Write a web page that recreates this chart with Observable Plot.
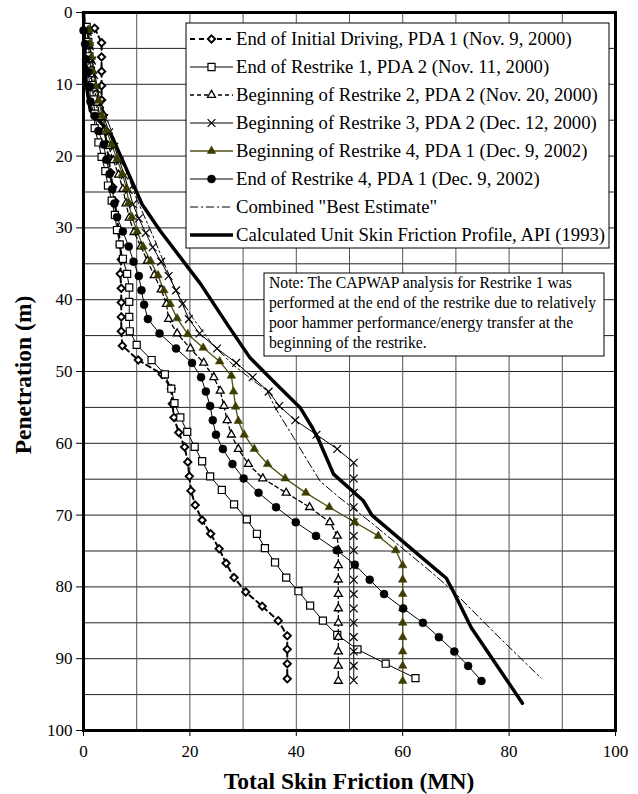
<!DOCTYPE html>
<html><head><meta charset="utf-8">
<script src="https://cdn.jsdelivr.net/npm/d3@7"></script>
<script src="https://cdn.jsdelivr.net/npm/@observablehq/plot@0.6"></script>
<style>body{margin:0;background:#fff}</style>
</head><body><div id="chart"></div>
<script>
// ---- data ----
const xTicks = [0, 20, 40, 60, 80, 100];
const yTicks = [0, 10, 20, 30, 40, 50, 60, 70, 80, 90, 100];
const xGrid = [10, 20, 30, 40, 50, 60, 70, 80, 90];
const yGrid = [5, 10, 15, 20, 25, 30, 35, 40, 45, 50, 55, 60, 65, 70, 75, 80, 85, 90, 95];

const seriesNames = [
  "End of Initial Driving, PDA 1 (Nov. 9, 2000)",
  "End of Restrike 1, PDA 2 (Nov. 11, 2000)",
  "Beginning of Restrike 2, PDA 2 (Nov. 20, 2000)",
  "Beginning of Restrike 3, PDA 2 (Dec. 12, 2000)",
  "Beginning of Restrike 4, PDA 1 (Dec. 9, 2002)",
  "End of Restrike 4, PDA 1 (Dec. 9, 2002)",
  "Combined \"Best Estimate\"",
  "Calculated Unit Skin Friction Profile, API (1993)"
];
const noteLines = [
  "Note: The CAPWAP analysis for Restrike 1 was",
  "performed at the end of the restrike due to relatively",
  "poor hammer performance/energy transfer at the",
  "beginning of the restrike."
];
const xTitle = "Total Skin Friction (MN)";
const yTitle = "Penetration (m)";

// End of Initial Driving
const depth1 = [2.2,4.2,6.2,8.2,10.2,12.2,14.3,16.3,18.3,20.3,22.3,24.3,26.3,28.3,30.3,32.4,34.4,36.4,38.4,40.4,42.4,44.4,46.4,48.4,50.4,52.4,54.5,56.4,58.5,60.5,62.6,64.6,66.6,68.6,70.7,72.6,74.7,76.7,78.7,80.7,82.7,84.7,86.8,88.7,90.7,92.8];
const fric1  = [2.1,3.4,3.4,3.4,3.4,3.4,3.7,4.0,4.3,4.7,5.1,5.5,5.9,6.2,6.6,6.9,7.1,6.9,7.1,7.1,7.1,7.1,7.3,10.3,14.8,16.5,16.7,17.0,17.9,19.0,19.6,19.9,20.2,21.0,22.3,23.9,25.5,26.8,28.3,30.5,33.6,36.6,38.3,38.3,38.3,38.3];
// End of Restrike 1
const depth2 = [2.0,4.1,6.1,8.1,10.1,12.1,14.1,16.1,18.1,20.1,22.1,24.1,26.2,28.2,30.3,32.3,34.3,36.4,38.3,40.3,42.4,44.4,46.3,48.4,50.4,52.4,54.4,56.4,58.4,60.5,62.5,64.6,66.5,68.5,70.6,72.6,74.6,76.6,78.7,80.6,82.6,84.7,86.7,88.7,90.7,92.7];
const fric2  = [0.6,0.9,1.1,1.4,1.6,1.9,2.1,2.1,2.8,3.4,4.1,4.6,5.3,5.9,6.3,6.8,7.4,8.2,8.6,8.6,8.6,8.7,10.0,12.8,15.3,16.5,17.1,18.2,19.5,20.9,22.3,23.8,26.0,28.3,30.7,32.6,34.1,36.0,38.1,40.4,42.6,45.0,47.7,51.5,56.8,62.4];
// Beginning of Restrike 2
const depth3 = [2.6,4.6,6.6,8.6,10.6,12.6,14.6,16.6,18.6,20.6,22.6,24.6,26.6,28.6,30.6,32.6,34.6,36.6,38.6,40.6,42.7,44.7,46.8,48.8,50.8,52.7,54.8,56.8,58.8,60.8,62.9,64.9,66.9,68.9,71.0,72.9,74.9,77.0,79.0,81.0,83.0,85.0,87.0,89.0,91.0,93.1];
const fric3  = [0.8,1.0,1.3,1.6,2.0,2.6,3.1,3.8,4.7,5.6,6.6,7.4,8.0,8.6,9.5,10.8,12.0,13.3,14.6,15.6,16.0,17.6,20.1,22.6,24.5,25.7,26.4,27.0,27.8,29.1,31.0,33.7,38.1,42.5,46.3,47.7,47.9,47.9,47.9,47.9,47.9,47.9,47.9,47.9,47.9,47.9];
// Beginning of Restrike 3
const depth4 = [2.7,4.7,6.7,8.7,10.7,12.7,14.7,16.7,18.7,20.7,22.7,24.7,26.7,28.7,30.7,32.7,34.7,36.7,38.7,40.6,42.7,44.7,46.8,48.8,50.8,52.8,54.8,56.8,58.8,60.8,62.7,64.9,66.9,68.9,71.0,72.9,74.9,77.0,79.0,81.0,83.0,85.0,87.0,89.0,91.0,93.0];
const fric4  = [0.8,1.2,1.6,2.0,2.5,3.1,3.9,4.8,5.8,6.8,7.7,8.5,9.3,10.4,11.7,13.0,14.6,16.0,17.4,18.6,19.8,21.8,25.1,28.7,31.8,34.8,36.8,39.8,43.8,47.7,50.8,50.8,50.8,50.8,50.8,50.8,50.8,50.8,50.8,50.8,50.8,50.8,50.8,50.8,50.8,50.8];
// Beginning of Restrike 4
const depth5 = [2.4,4.3,6.2,8.2,10.3,12.3,14.4,16.4,18.4,20.4,22.5,24.5,26.5,28.5,30.5,32.6,34.6,36.6,38.7,40.6,42.6,44.8,46.7,48.6,50.6,52.8,54.9,56.9,58.8,60.8,62.9,64.9,66.9,68.9,71.0,72.9,74.9,77.0,79.0,81.0,83.0,85.0,87.0,89.0,91.0,93.1];
const fric5  = [1.0,1.2,1.5,1.8,2.3,2.9,3.5,4.3,5.3,6.3,7.3,8.1,8.5,9.1,10.1,11.2,12.6,14.0,15.1,16.3,17.6,19.6,22.5,25.6,27.8,28.2,28.6,29.1,30.2,32.1,34.6,37.9,41.8,46.2,51.0,55.4,58.7,60.0,60.0,60.0,60.0,60.0,60.0,60.0,60.0,60.0];
// End of Restrike 4
const depth6 = [2.5,4.4,6.5,8.3,10.3,12.4,14.4,16.5,18.4,20.5,22.5,24.6,26.6,28.5,30.5,32.6,34.7,36.7,38.7,40.7,42.7,44.7,46.8,48.8,50.8,52.8,54.8,56.8,58.8,60.8,62.9,64.9,66.9,68.9,71.0,72.9,74.9,76.9,79.0,81.0,83.0,85.0,87.0,89.0,91.0,93.1];
const fric6  = [0.0,0.3,0.5,0.9,1.2,1.3,2.1,2.8,3.8,4.3,4.9,5.4,5.8,6.3,7.4,8.5,9.4,10.4,10.9,11.4,12.1,14.3,17.4,20.4,22.1,23.0,23.8,24.3,24.9,26.2,28.0,30.1,32.9,36.2,39.9,43.7,47.6,51.0,53.8,56.5,60.1,63.8,66.8,69.7,72.3,74.8];
// Combined "Best Estimate"
const depth7 = [0,6,12,16,21,26,31,35.5,39,42.5,46,49,51.3,52.7,55,59.2,62.3,65.3,67.5,71.3,77.4,80.6,86.2,92.7];
const fric7  = [0,1.5,3,5,7.5,10,13,15.5,17.5,20.5,24,28,32,34.5,36,39.5,42,44.5,48,54.5,64.5,69.5,77,86];
// Calculated API (1993)
const depth8 = [0,10,13.7,16.9,23,26.7,30.4,37.8,43.4,48.1,51.8,55,57.8,59.5,64.3,68,70,75.3,78.8,80.6,85.7,96.2];
const fric8  = [0,0.5,1.3,5.1,8.8,11,14.4,22,27,31.3,36.3,40.7,43,44.2,47,52.6,54.2,62.6,68.2,69.5,72.9,82.5];

const rows = (ds, fs) => ds.map((d, i) => ({d, f: fs[i]}));
const s1 = rows(depth1, fric1), s2 = rows(depth2, fric2), s3 = rows(depth3, fric3),
      s4 = rows(depth4, fric4), s5 = rows(depth5, fric5), s6 = rows(depth6, fric6),
      s7 = rows(depth7, fric7), s8 = rows(depth8, fric8);

const OLIVE_LINE = "#4f4f14", OLIVE_FILL = "#3d3d00";

const styles = [
  {dash: "5,4", sw: 2, stroke: "#000", symbol: "diamond2", r: 3.3, fill: "#fff", mstroke: "#000", msw: 1.9},
  {dash: null, sw: 1, stroke: "#000", symbol: "square2", r: 4.5, fill: "#fff", mstroke: "#000", msw: 1.2},
  {dash: "4,3", sw: 1.3, stroke: "#000", symbol: "triangle2", r: 3.8, fill: "#fff", mstroke: "#000", msw: 1.3},
  {dash: null, sw: 1, stroke: "#000", symbol: "times", r: 3.6, fill: "none", mstroke: "#000", msw: 1.2},
  {dash: null, sw: 1.3, stroke: OLIVE_LINE, symbol: "triangle", r: 3.2, fill: OLIVE_FILL, mstroke: OLIVE_FILL, msw: 0.5},
  {dash: null, sw: 1, stroke: "#000", symbol: "circle", r: 4, fill: "#000", mstroke: "#000", msw: 0.5},
  {dash: "8,3,2,3", sw: 1, stroke: "#000", symbol: null},
  {dash: null, sw: 3.5, stroke: "#000", symbol: null}
];
const data = [s1, s2, s3, s4, s5, s6, s7, s8];

const marks = [
  Plot.ruleY(yGrid, {stroke: "#222", strokeWidth: 1}),
  Plot.ruleX(xGrid, {stroke: "#555", strokeWidth: 1}),
];
data.forEach((s, i) => {
  const st = styles[i];
  marks.push(Plot.line(s, {x: "f", y: "d", stroke: st.stroke, strokeWidth: st.sw, strokeDasharray: st.dash || undefined}));
});
data.forEach((s, i) => {
  const st = styles[i];
  if (st.symbol) marks.push(Plot.dot(s, {x: "f", y: "d", symbol: st.symbol, r: st.r, fill: st.fill, stroke: st.mstroke, strokeWidth: st.msw}));
});
marks.push(Plot.frame({stroke: "#000", strokeWidth: 3}));

const W = 638, H = 794, ML = 83, MR = 23, MT = 12, MB = 64;
const chart = Plot.plot({
  width: W, height: H,
  marginLeft: ML, marginRight: MR, marginTop: MT, marginBottom: MB,
  style: {fontFamily: "'Liberation Serif', 'Times New Roman', serif", fontSize: "17px", color: "#000", background: "#fff"},
  x: {domain: [0, 100], ticks: xTicks, tickSize: 6, tickPadding: 8, label: null},
  y: {domain: [0, 100], reverse: true, ticks: yTicks, tickSize: 7, tickPadding: 4, label: null},
  marks
});
document.getElementById("chart").appendChild(chart);

const svg = d3.select(chart);
const serif = "'Liberation Serif', 'Times New Roman', serif";
svg.append("text").attr("x", (ML + W - MR) / 2).attr("y", 789).attr("text-anchor", "middle")
  .attr("font-family", serif).attr("font-weight", "bold").attr("font-size", 23.5).text(xTitle);
svg.append("text").attr("transform", `translate(31,${(MT + H - MB) / 2 + 4}) rotate(-90)`).attr("text-anchor", "middle")
  .attr("font-family", serif).attr("font-weight", "bold").attr("font-size", 23.5).text(yTitle);

// legend
const lg = svg.append("g").attr("text-anchor", "start");
lg.append("rect").attr("x", 186).attr("y", 23).attr("width", 423).attr("height", 225)
  .attr("fill", "#fff").attr("stroke", "#000").attr("stroke-width", 1);
const symMap = {diamond2: d3.symbolDiamond2, square2: d3.symbolSquare2, triangle2: d3.symbolTriangle2,
  times: d3.symbolTimes, triangle: d3.symbolTriangle, circle: d3.symbolCircle};
seriesNames.forEach((name, i) => {
  const st = styles[i];
  const cy = 39 + i * 28;
  const ln = lg.append("line").attr("x1", 190).attr("x2", 233).attr("y1", cy).attr("y2", cy)
    .attr("stroke", st.stroke).attr("stroke-width", st.sw);
  if (st.dash) ln.attr("stroke-dasharray", st.dash);
  if (st.symbol) {
    lg.append("path").attr("transform", `translate(211.5,${cy})`)
      .attr("d", d3.symbol(symMap[st.symbol], Math.PI * st.r * st.r)())
      .attr("fill", st.fill).attr("stroke", st.mstroke).attr("stroke-width", st.msw);
  }
  lg.append("text").attr("x", 236).attr("y", cy + 6).attr("text-anchor", "start")
    .attr("font-family", serif).attr("font-size", 18.7).text(name);
});

// note
const nt = svg.append("g").attr("text-anchor", "start");
nt.append("rect").attr("x", 264).attr("y", 273).attr("width", 340).attr("height", 83)
  .attr("fill", "#fff").attr("stroke", "#000").attr("stroke-width", 1);
noteLines.forEach((t, i) => {
  nt.append("text").attr("x", 269).attr("y", 288 + i * 20).attr("text-anchor", "start")
    .attr("font-family", serif).attr("font-size", 15.7).text(t);
});
</script></body></html>
